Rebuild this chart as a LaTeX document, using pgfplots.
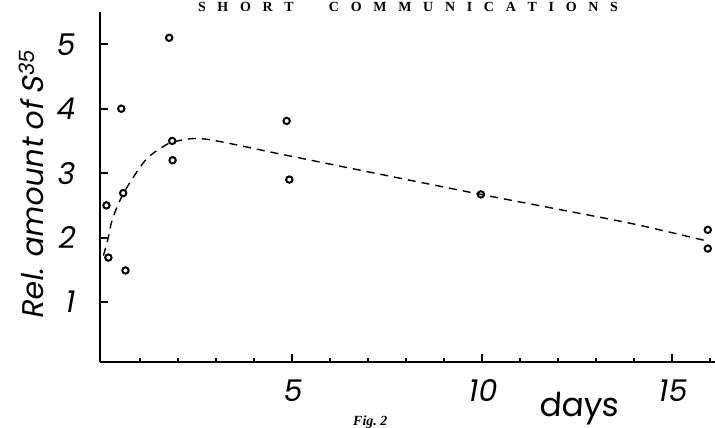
\documentclass[border=0pt]{standalone}
\usepackage{fontspec}
\usepackage{pgfplots}
\pgfplotsset{compat=1.18}
\newfontfamily\lab{Poppins}[FakeSlant=0.18]
\newfontfamily\labup{Poppins}[FakeSlant=0.06]
\newfontfamily\head{Liberation Serif}

% measured points (days, relative amount)
\pgfplotstableread{
x y
1.77 5.10
0.51 4.00
4.86 3.81
1.85 3.50
1.86 3.20
4.93 2.90
0.56 2.69
0.12 2.50
0.17 1.69
0.62 1.49
9.97 2.67
15.94 2.12
15.94 1.83
}\pts
% hand drawn trend curve
\pgfplotstableread{
x y
0.04 1.72
0.16 1.98
0.28 2.29
0.58 2.70
1.13 3.19
1.58 3.40
1.92 3.49
2.70 3.53
4.66 3.30
6.84 3.04
9.97 2.67
12.00 2.44
14.00 2.21
15.90 1.95
}\trend

\begin{document}
\begin{tikzpicture}
\path[use as bounding box] (-100bp,-66bp) rectangle (615bp,362bp);
\node[anchor=base, inner sep=0pt] at (308bp,350bp)
  {\head\bfseries\fontsize{14}{14}\selectfont
   \makebox[420bp][s]{S\hfill H\hfill O\hfill R\hfill T\hfill\hfill\hfill
   C\hfill O\hfill M\hfill M\hfill U\hfill N\hfill I\hfill C\hfill A\hfill T\hfill I\hfill O\hfill N\hfill S}};
\node[anchor=north west, inner sep=0pt] at (253bp,-54bp)
  {\head\bfseries\itshape\fontsize{14}{14}\selectfont Fig.~2};
\begin{axis}[
  scale only axis, width=615bp, height=350bp,
  at={(0,0)}, anchor=south west,
  xmin=-0.05, xmax=16.13, ymin=0.07, ymax=5.5,
  axis lines=left,
  axis line style={-, line width=2.4bp},
  xtick={5,10,15}, minor xtick={1,...,16},
  ytick={1,2,3,4,5},
  tick align=inside,
  major tick length=8bp, minor tick length=4bp,
  tick style={black, line width=2bp},
  /pgf/number format/assume math mode=true,
  tick label style={font=\lab\fontsize{30}{30}\selectfont},
  xticklabel style={yshift=-14bp},
  yticklabel style={xshift=-22bp},
  ylabel={Rel. amount of S\textsuperscript{35}},
  ylabel style={at={(axis description cs:-0.112,0.506)}, anchor=center,
    font=\lab\fontsize{30}{30}\selectfont},
  xlabel={days},
  xlabel style={at={(axis description cs:0.779,-0.157)}, anchor=base,
    font=\labup\fontsize{33}{33}\selectfont},
  clip=false,
]
\addplot[black, line width=1.4bp, dash pattern=on 8bp off 6bp, smooth, tension=0.5]
  table[x=x, y=y] {\trend};
\addplot[only marks, mark=o, mark size=3.2bp, mark options={line width=2bp, black}]
  table[x=x, y=y] {\pts};
\end{axis}
\end{tikzpicture}
\end{document}
